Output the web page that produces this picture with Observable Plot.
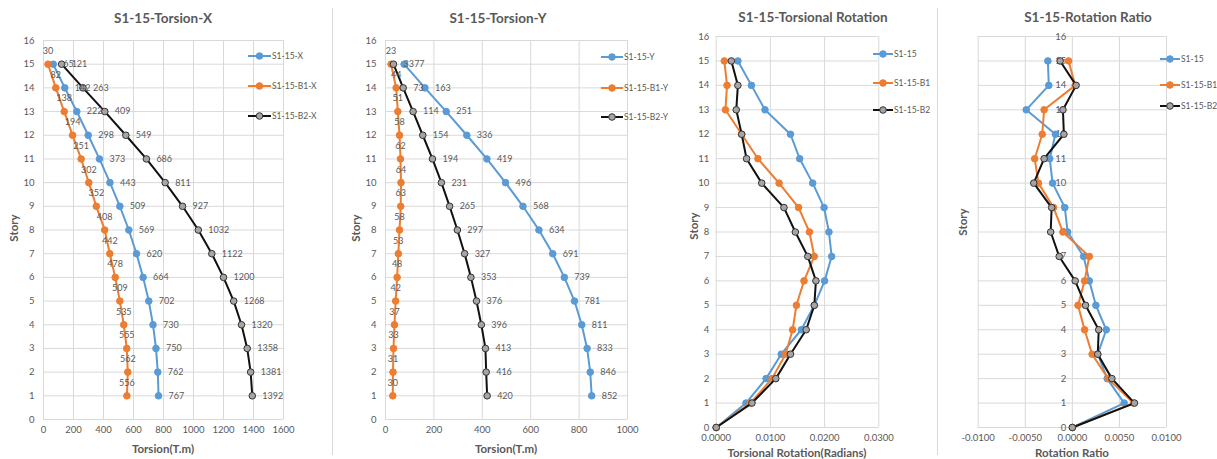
<!DOCTYPE html>
<html><head><meta charset="utf-8">
<script src="https://cdn.jsdelivr.net/npm/d3@7"></script>
<script src="https://cdn.jsdelivr.net/npm/@observablehq/plot@0.6"></script>
<style>
body{margin:0;background:#fff;font-family:Lato,"Open Sans",sans-serif;}
#root{position:relative;width:1217px;height:459px;overflow:hidden;background:#fff;}
.abs{position:absolute;}
.title{font-weight:bold;font-size:13.5px;color:#595959;transform:translate(-50%,-50%);white-space:nowrap;}
.xlab{font-weight:bold;font-size:11.5px;color:#595959;transform:translate(-50%,-50%);white-space:nowrap;}
.ylab{font-weight:bold;font-size:11.5px;color:#595959;transform:translate(-50%,-50%) rotate(-90deg);white-space:nowrap;}
.sep{position:absolute;width:1px;background:#d9d9d9;}
.leg{position:absolute;display:flex;align-items:center;height:14px;font-size:8.5px;color:#595959;white-space:nowrap;}
.leg svg{display:block;}
</style></head><body><div id="root"></div><script>
// ---------- data ----------
const stories15 = [15,14,13,12,11,10,9,8,7,6,5,4,3,2,1];
const stories16 = [15,14,13,12,11,10,9,8,7,6,5,4,3,2,1,0];

// Panel 1: Torsion X (T.m)
const torsionX = [65,142,222,298,373,443,509,569,620,664,702,730,750,762,767];
const torsionB1X = [30,82,138,194,251,302,352,408,442,478,509,535,555,562,556];
const torsionB2X = [121,263,409,549,686,811,927,1032,1122,1200,1268,1320,1358,1381,1392];

// Panel 2: Torsion Y (T.m)
const torsionY = [77,163,251,336,419,496,568,634,691,739,781,811,833,846,852];
const torsionB1Y = [23,44,51,58,62,64,63,58,53,48,42,37,33,31,30];
const torsionB2Y = [33,73,114,154,194,231,265,297,327,353,376,396,413,416,420];

// Panel 3: Torsional rotation (radians), stories 15..0
const rot = [0.0040,0.0065,0.0090,0.0137,0.0154,0.0178,0.0199,0.0208,0.0213,0.0200,0.0181,0.0157,0.0120,0.0092,0.0055,0];
const rotB1 = [0.0015,0.0020,0.0017,0.0047,0.0077,0.0116,0.0152,0.0172,0.0181,0.0162,0.0148,0.0141,0.0128,0.0103,0.0063,0];
const rotB2 = [0.0028,0.0040,0.0037,0.0047,0.0056,0.0084,0.0125,0.0146,0.0169,0.0184,0.0181,0.0166,0.0137,0.0110,0.0066,0];

// Panel 4: Rotation ratio, stories 15..0
const ratio = [-0.0026,-0.0025,-0.0049,-0.0018,-0.0024,-0.0021,-0.0008,-0.0005,0.0012,0.0018,0.0025,0.0036,0.0027,0.0037,0.0055,0];
const ratioB1 = [-0.0004,0.0003,-0.0030,-0.0032,-0.0040,-0.0036,-0.0020,-0.0010,0.0018,0.0013,0.0006,0.0013,0.0021,0.0038,0.0065,0];
const ratioB2 = [-0.0013,0.0004,-0.0010,-0.0009,-0.0030,-0.0041,-0.0022,-0.0023,-0.0014,0.0003,0.0014,0.0028,0.0027,0.0042,0.0066,0];

// ticks & labels
const storyTicks = d3.range(0,17);
const ticksX1 = [0,200,400,600,800,1000,1200,1400,1600];
const ticksX2 = [0,200,400,600,800,1000];
const ticksX3 = [0,0.01,0.02,0.03];
const ticksX4 = [-0.01,-0.005,0,0.005,0.01];

const titles = ["S1-15-Torsion-X","S1-15-Torsion-Y","S1-15-Torsional Rotation","S1-15-Rotation Ratio"];
const xLabels = ["Torsion(T.m)","Torsion(T.m)","Torsional Rotation(Radians)","Rotation Ratio"];
const legend1 = ["S1-15-X","S1-15-B1-X","S1-15-B2-X"];
const legend2 = ["S1-15-Y","S1-15-B1-Y","S1-15-B2-Y"];
const legend3 = ["S1-15","S1-15-B1","S1-15-B2"];

// ---------- style ----------
const BLUE="#5B9BD5", ORANGE="#ED7D31", BLACK="#111111", GREYFILL="#A5A5A5";
const GRID="#d9d9d9", TXT="#595959";
const styles = [
  {stroke:BLUE, fill:BLUE, mstroke:BLUE},
  {stroke:ORANGE, fill:ORANGE, mstroke:ORANGE},
  {stroke:BLACK, fill:GREYFILL, mstroke:"#333"}
];

const root = document.getElementById("root");
function add(el){root.appendChild(el);return el;}
function div(cls, text, left, top){const d=document.createElement("div");d.className=cls+" abs";d.textContent=text;d.style.left=left+"px";d.style.top=top+"px";return add(d);}

function seriesMarks(values, ys, st){
  return [
    Plot.line(values, {x:d=>d, y:(d,i)=>ys[i], stroke:st.stroke, strokeWidth:2, curve:"linear"}),
    Plot.dot(values, {x:d=>d, y:(d,i)=>ys[i], r:3.3, fill:st.fill, stroke:st.mstroke, strokeWidth:1})
  ];
}

function makePanel(p){
  const marks = [
    Plot.gridX(p.xticks, {stroke:GRID, strokeOpacity:1, strokeWidth:1}),
    Plot.gridY(storyTicks, {stroke:GRID, strokeOpacity:1, strokeWidth:1}),
    Plot.axisX(p.xticks, {tickSize:0, tickPadding:p.xpad, label:null, fill:TXT, fontSize:9.5, tickFormat:p.fmt})
  ];
  if (p.yAtZero) {
    marks.push(Plot.text(storyTicks, {x:()=>0, y:d=>d, text:d=>String(d), dx:-6, textAnchor:"end", fill:TXT, fontSize:9.5}));
    marks.push(Plot.axisY(storyTicks, {tickSize:0, text:()=>"", label:null}));
  } else {
    marks.push(Plot.axisY(storyTicks, {tickSize:0, tickPadding:p.ypad, label:null, fill:TXT, fontSize:9.5}));
  }
  p.series.forEach((vals,k)=>{ marks.push(...seriesMarks(vals, p.ys, styles[k])); });
  if (p.labels) {
    const [a,b,c] = p.series;
    marks.push(Plot.text(a, {x:d=>d, y:(d,i)=>p.ys[i], text:d=>String(d), dx:10, textAnchor:"start", fill:TXT, fontSize:9}));
    marks.push(Plot.text(b, {x:d=>d, y:(d,i)=>p.ys[i], text:d=>String(d), dy:-13, textAnchor:"middle", fill:TXT, fontSize:9}));
    marks.push(Plot.text(c, {x:d=>d, y:(d,i)=>p.ys[i], text:d=>String(d), dx:10, textAnchor:"start", fill:TXT, fontSize:9}));
  }
  const svg = Plot.plot({
    width:p.width, height:459,
    marginLeft:p.ml, marginRight:p.width-p.ml-p.pw, marginTop:p.mt, marginBottom:459-p.mt-p.ph,
    style:{fontFamily:"Lato, 'Open Sans', sans-serif", color:TXT, background:"transparent", overflow:"visible"},
    x:{domain:p.xdomain, axis:null},
    y:{domain:[0,16], axis:null},
    marks
  });
  svg.style.position="absolute"; svg.style.left=p.left+"px"; svg.style.top="0px";
  add(svg);
  // title & labels
  div("title", p.title, p.titleX, p.titleY);
  div("xlab", p.xlabel, p.xlabX, p.xlabY);
  div("ylab", "Story", p.ylabX, p.ylabY);
  // legend
  p.legend.forEach((name,k)=>{
    const st = styles[k];
    const d = document.createElement("div"); d.className="leg";
    d.style.left = p.legX+"px"; d.style.top=(p.legY[k]-7)+"px";
    const L = p.legLen;
    d.innerHTML = `<svg width="${L}" height="14"><line x1="0" x2="${L}" y1="7" y2="7" stroke="${st.stroke}" stroke-width="2"/><circle cx="${L/2}" cy="7" r="3.3" fill="${st.fill}" stroke="${st.mstroke}" stroke-width="1"/></svg><span style="margin-left:1px">${name}</span>`;
    add(d);
  });
}

const f4 = d => d.toFixed(4);
const fi = d => String(d);

makePanel({left:0, width:332, ml:43, pw:240, mt:40, ph:379, xdomain:[0,1600], xticks:ticksX1, fmt:fi, xpad:7, ypad:9,
  series:[torsionX,torsionB1X,torsionB2X], ys:stories15, labels:true,
  title:titles[0], titleX:163, titleY:18, xlabel:xLabels[0], xlabX:163, xlabY:448, ylabX:13, ylabY:228,
  legend:legend1, legX:248, legY:[56,86,116], legLen:23});

makePanel({left:332, width:328, ml:53, pw:242, mt:40, ph:379, xdomain:[0,1000], xticks:ticksX2, fmt:fi, xpad:7, ypad:9,
  series:[torsionY,torsionB1Y,torsionB2Y], ys:stories15, labels:true,
  title:titles[1], titleX:498, titleY:18, xlabel:xLabels[1], xlabX:506, xlabY:448, ylabX:355, ylabY:228,
  legend:legend2, legX:601, legY:[57,88,117], legLen:22});

makePanel({left:660, width:277, ml:55.7, pw:162.6, mt:36, ph:391, xdomain:[0,0.03], xticks:ticksX3, fmt:f4, xpad:7, ypad:7,
  series:[rot,rotB1,rotB2], ys:stories16, labels:false,
  title:titles[2], titleX:813, titleY:17, xlabel:xLabels[2], xlabX:797, xlabY:452, ylabX:693, ylabY:226,
  legend:legend3, legX:873, legY:[54,83,110], legLen:20});

makePanel({left:937, width:280, ml:40.7, pw:188.3, mt:36, ph:391, xdomain:[-0.01,0.01], xticks:ticksX4, fmt:f4, xpad:7, ypad:7, yAtZero:true,
  series:[ratio,ratioB1,ratioB2], ys:stories16, labels:false,
  title:titles[3], titleX:1088, titleY:17, xlabel:xLabels[3], xlabX:1072, xlabY:452, ylabX:962, ylabY:222,
  legend:legend3, legX:1160, legY:[59,85,106], legLen:20});

// separators
[[332,8,447],[937,8,447]].forEach(([x,t,h])=>{const s=document.createElement("div");s.className="sep";s.style.left=x+"px";s.style.top=t+"px";s.style.height=h+"px";add(s);});
</script></body></html>
